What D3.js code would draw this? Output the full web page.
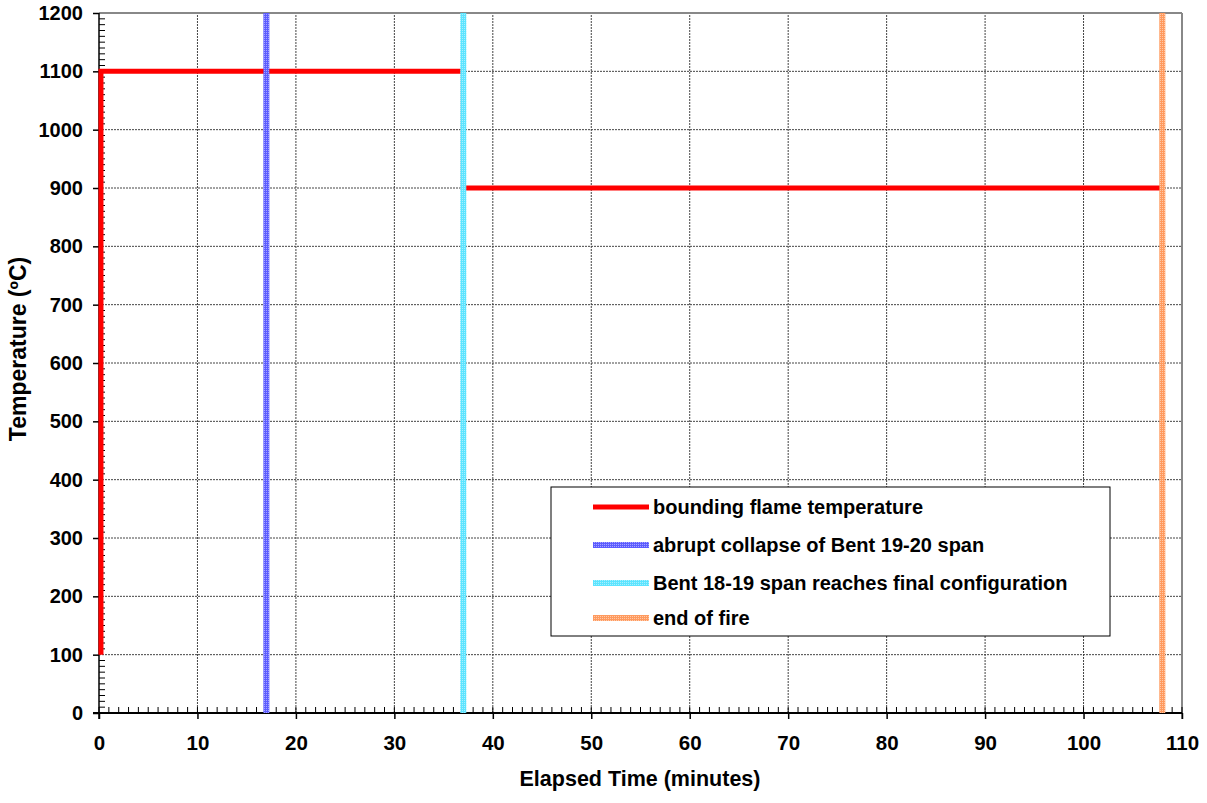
<html>
<head>
<script src="https://cdn.jsdelivr.net/npm/d3@7/dist/d3.min.js"></script>
<style>
body { margin: 0; background: #fff; }
text { font-family: "Liberation Sans", Arial, sans-serif; font-weight: bold; fill: #000; }
</style>
</head>
<body>
<svg id="chart" width="1207" height="803"></svg>
<script>
// data
var flameTime = [0.2, 0.2, 37, 37, 108];
var flameTemp = [100, 1100, 1100, 900, 900];
var eventTime = [17, 37, 108];
var eventColor = ["#5c5cff", "#5ce4ff", "#ff9a5e"];
var legendLabels = ["bounding flame temperature", "abrupt collapse of Bent 19-20 span",
                    "Bent 18-19 span reaches final configuration", "end of fire"];
var xTicks = d3.range(0, 111, 10);
var yTicks = d3.range(0, 1201, 100);

var svg = d3.select("#chart");
var x = d3.scaleLinear().domain([0, 110]).range([99, 1182]);
var y = d3.scaleLinear().domain([0, 1200]).range([713, 13]);

// dotted patterns for the event lines
var defs = svg.append("defs");
eventColor.forEach(function(c, i) {
  var p = defs.append("pattern").attr("id", "pat" + i)
    .attr("width", 2).attr("height", 2).attr("patternUnits", "userSpaceOnUse");
  p.append("rect").attr("width", 2).attr("height", 2).attr("fill", c);
  p.append("rect").attr("width", 1).attr("height", 1).attr("fill", "#fff").attr("opacity", 0.45);
});

// grid
var grid = svg.append("g");
grid.selectAll(".gy").data(yTicks.slice(1, -1)).enter().append("line")
  .attr("x1", x(0)).attr("x2", x(110)).attr("y1", d => y(d)).attr("y2", d => y(d))
  .attr("stroke", "#444").attr("stroke-width", 1).attr("stroke-dasharray", "2,1");
grid.selectAll(".gx").data(xTicks.slice(1, -1)).enter().append("line")
  .attr("y1", y(0)).attr("y2", y(1200)).attr("x1", d => x(d)).attr("x2", d => x(d))
  .attr("stroke", "#444").attr("stroke-width", 1).attr("stroke-dasharray", "2,1");

// top and right border
svg.append("line").attr("x1", x(0)).attr("x2", x(110)).attr("y1", y(1200)).attr("y2", y(1200))
  .attr("stroke", "#888").attr("stroke-width", 2);
svg.append("line").attr("x1", x(110)).attr("x2", x(110)).attr("y1", y(1200)).attr("y2", y(0) + 6)
  .attr("stroke", "#888").attr("stroke-width", 2);

// axes
var xAxis = d3.axisBottom(x).tickValues(xTicks).tickSize(6).tickPadding(16).tickFormat(d3.format("d"));
var gx = svg.append("g").attr("transform", "translate(0," + y(0) + ")").call(xAxis);
gx.selectAll("text").style("font-size", "20.5px");
gx.select(".domain").attr("stroke-width", 2).attr("d", "M" + (x(0) - 6) + ",0H" + x(110));
gx.selectAll(".tick line").attr("stroke-width", 1.5);
gx.selectAll(".minor").data(d3.range(1, 110).filter(d => d % 10 !== 0)).enter().append("line")
  .attr("x1", d => x(d)).attr("x2", d => x(d)).attr("y1", 0).attr("y2", -6).attr("stroke", "#000");
gx.selectAll(".major2").data(xTicks).enter().append("line")
  .attr("x1", d => x(d)).attr("x2", d => x(d)).attr("y1", 0).attr("y2", -6).attr("stroke", "#000");

var yAxis = d3.axisLeft(y).tickValues(yTicks).tickSize(6).tickPadding(10).tickFormat(d3.format("d"));
var gy = svg.append("g").attr("transform", "translate(" + x(0) + ",0)").call(yAxis);
gy.selectAll("text").style("font-size", "20px");
gy.select(".domain").attr("stroke-width", 1.5).attr("d", "M0," + y(1200) + "V" + (y(0) + 6));
gy.selectAll(".tick line").attr("stroke-width", 1.5);
gy.selectAll(".minor").data(d3.range(10, 1200, 10).filter(d => d % 100 !== 0)).enter().append("line")
  .attr("x1", 0).attr("x2", 6).attr("y1", d => y(d)).attr("y2", d => y(d)).attr("stroke", "#000");

// flame temperature line
var line = d3.line().x(d => x(d[0])).y(d => y(d[1]));
svg.append("path").datum(d3.zip(flameTime, flameTemp)).attr("d", line)
  .attr("fill", "none").attr("stroke", "#ff0000").attr("stroke-width", 5);

// event lines
svg.selectAll(".ev").data(eventTime).enter().append("rect")
  .attr("x", d => x(d) - 3).attr("width", 6)
  .attr("y", y(1200)).attr("height", y(0) - y(1200))
  .attr("fill", (d, i) => "url(#pat" + i + ")");

// axis titles
svg.append("text").attr("x", 640).attr("y", 786).attr("text-anchor", "middle")
  .style("font-size", "21.5px").text("Elapsed Time (minutes)");
svg.append("text").attr("transform", "translate(26,349) rotate(-90)").attr("text-anchor", "middle")
  .style("font-size", "23px").text("Temperature (ºC)");

// legend
var lg = svg.append("g");
lg.append("rect").attr("x", 551).attr("y", 487).attr("width", 559).attr("height", 149)
  .attr("fill", "#fff").attr("stroke", "#000").attr("stroke-width", 1);
var rowY = [507, 545, 583, 618];
legendLabels.forEach(function(t, i) {
  if (i === 0) {
    lg.append("line").attr("x1", 593).attr("x2", 649).attr("y1", rowY[i]).attr("y2", rowY[i])
      .attr("stroke", "#ff0000").attr("stroke-width", 5);
  } else {
    lg.append("rect").attr("x", 593).attr("width", 56).attr("y", rowY[i] - 3).attr("height", 6)
      .attr("fill", "url(#pat" + (i - 1) + ")");
  }
  lg.append("text").attr("x", 653).attr("y", rowY[i] + 7).style("font-size", "20px").text(t);
});
</script>
</body>
</html>
